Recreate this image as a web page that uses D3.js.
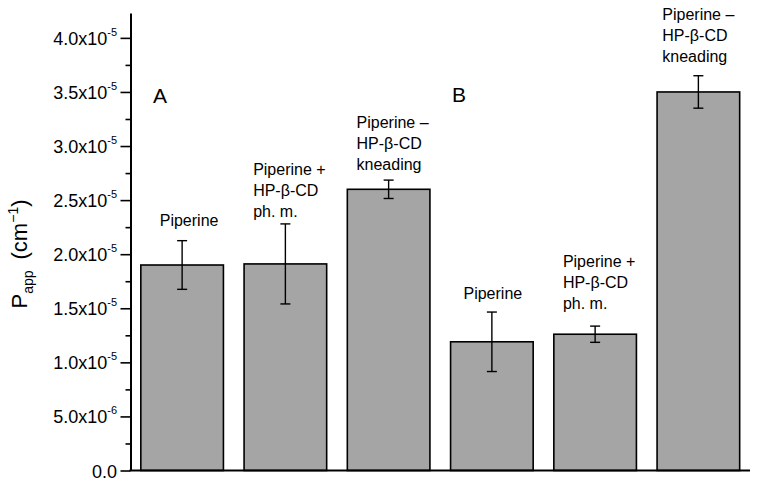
<!DOCTYPE html>
<html>
<head>
<meta charset="utf-8">
<script src="https://cdn.jsdelivr.net/npm/d3@7"></script>
<style>
  body { margin: 0; background: #fff; }
  svg { display: block; font-family: "Liberation Sans", Arial, sans-serif; }
</style>
</head>
<body>
<svg id="chart" width="763" height="486"></svg>
<script>
// ---- data ----
const categories = ["A1", "A2", "A3", "B1", "B2", "B3"];
const categoryLabels = [
  ["Piperine"],
  ["Piperine +", "HP-\u03B2-CD", "ph. m."],
  ["Piperine \u2013", "HP-\u03B2-CD", "kneading"],
  ["Piperine"],
  ["Piperine +", "HP-\u03B2-CD", "ph. m."],
  ["Piperine \u2013", "HP-\u03B2-CD", "kneading"]
];
const values = [1.90e-5, 1.91e-5, 2.60e-5, 1.19e-5, 1.26e-5, 3.50e-5];
const errors = [2.25e-6, 3.70e-6, 0.85e-6, 2.75e-6, 0.75e-6, 1.50e-6];
const panelLetters = ["A", "B"];
const yTickValues = [0, 5e-6, 1e-5, 1.5e-5, 2e-5, 2.5e-5, 3e-5, 3.5e-5, 4e-5];
const yTickMantissa = ["0.0", "5.0", "1.0", "1.5", "2.0", "2.5", "3.0", "3.5", "4.0"];
const yTickExponent = [null, "-6", "-5", "-5", "-5", "-5", "-5", "-5", "-5"];
const yMinorValues = [2.5e-6, 7.5e-6, 1.25e-5, 1.75e-5, 2.25e-5, 2.75e-5, 3.25e-5, 3.75e-5];

// ---- layout ----
const svg = d3.select("#chart");
const x0 = 130.5, x1 = 750, yBase = 470.5, yTop = 13;
const labelGaps = [15, 7, 10, 13, 17, 14];
const labelShift = [7, 4, 4, 1, 4, 0];

const x = d3.scaleBand().domain(categories).range([x0, x1]).paddingInner(0.2).paddingOuter(0.1);
const y = d3.scaleLinear().domain([0, 4.23e-5]).range([yBase, yTop]);

// bars
svg.append("g").selectAll("rect").data(categories).join("rect")
  .attr("x", d => x(d))
  .attr("y", (d, i) => y(values[i]))
  .attr("width", x.bandwidth())
  .attr("height", (d, i) => y(0) - y(values[i]))
  .attr("fill", "#a5a5a5")
  .attr("stroke", "#000")
  .attr("stroke-width", 1.6);

// error bars
const eg = svg.append("g").attr("stroke", "#000").attr("stroke-width", 1.4);
categories.forEach((c, i) => {
  const cx = x(c) + x.bandwidth() / 2;
  const hi = y(values[i] + errors[i]), lo = y(values[i] - errors[i]);
  eg.append("line").attr("x1", cx).attr("x2", cx).attr("y1", hi).attr("y2", lo);
  eg.append("line").attr("x1", cx - 5).attr("x2", cx + 5).attr("y1", hi).attr("y2", hi);
  eg.append("line").attr("x1", cx - 5).attr("x2", cx + 5).attr("y1", lo).attr("y2", lo);
});

// category labels above bars (left-aligned block)
categories.forEach((c, i) => {
  const lines = categoryLabels[i];
  const cx = x(c) + x.bandwidth() / 2;
  const lastBase = y(values[i] + errors[i]) - labelGaps[i];
  const t = svg.append("text").attr("font-size", 16).attr("fill", "#000");
  lines.forEach((ln, j) => {
    t.append("tspan").attr("x", 0).attr("y", lastBase - (lines.length - 1 - j) * 21).text(ln);
  });
  const w = t.node().getBBox().width;
  t.selectAll("tspan").attr("x", cx - w / 2 + labelShift[i]);
});

// panel letters
svg.append("text").attr("x", 153).attr("y", 103).attr("font-size", 21).text(panelLetters[0]);
svg.append("text").attr("x", 452).attr("y", 102).attr("font-size", 21).text(panelLetters[1]);

// y axis
const yAxis = d3.axisLeft(y).tickValues(yTickValues).tickSize(10).tickSizeOuter(0).tickFormat("");
const ga = svg.append("g").attr("transform", `translate(${x0},0)`).call(yAxis);
ga.select(".domain").attr("stroke-width", 2);
ga.selectAll(".tick line").attr("stroke-width", 1.6);
const yMinor = d3.axisLeft(y).tickValues(yMinorValues).tickSize(5).tickSizeOuter(0).tickFormat("");
const gm = svg.append("g").attr("transform", `translate(${x0},0)`).call(yMinor);
gm.select(".domain").remove();
gm.selectAll(".tick line").attr("stroke-width", 1.6);

// tick labels with superscripts
yTickValues.forEach((v, i) => {
  const ty = y(v) + 7;
  const t = svg.append("text").attr("x", 117).attr("y", ty).attr("text-anchor", "end").attr("font-size", 18);
  if (yTickExponent[i]) {
    t.append("tspan").text(yTickMantissa[i] + "x10");
    t.append("tspan").attr("font-size", 11).attr("dy", -9).text(yTickExponent[i]);
  } else {
    t.append("tspan").text(yTickMantissa[i]);
  }
});

// x axis line
svg.append("line").attr("x1", x0 - 1).attr("x2", x1).attr("y1", yBase).attr("y2", yBase)
  .attr("stroke", "#000").attr("stroke-width", 2);

// y title
const yt = svg.append("text").attr("transform", "translate(27,254) rotate(-90)")
  .attr("text-anchor", "middle").attr("font-size", 22);
yt.append("tspan").text("P");
yt.append("tspan").attr("font-size", 14).attr("dy", 6).text("app");
yt.append("tspan").attr("dy", -6).text("\u2002(cm");
yt.append("tspan").attr("font-size", 14).attr("dy", -9).text("\u22121");
yt.append("tspan").attr("dy", 9).text(")");
</script>
</body>
</html>
